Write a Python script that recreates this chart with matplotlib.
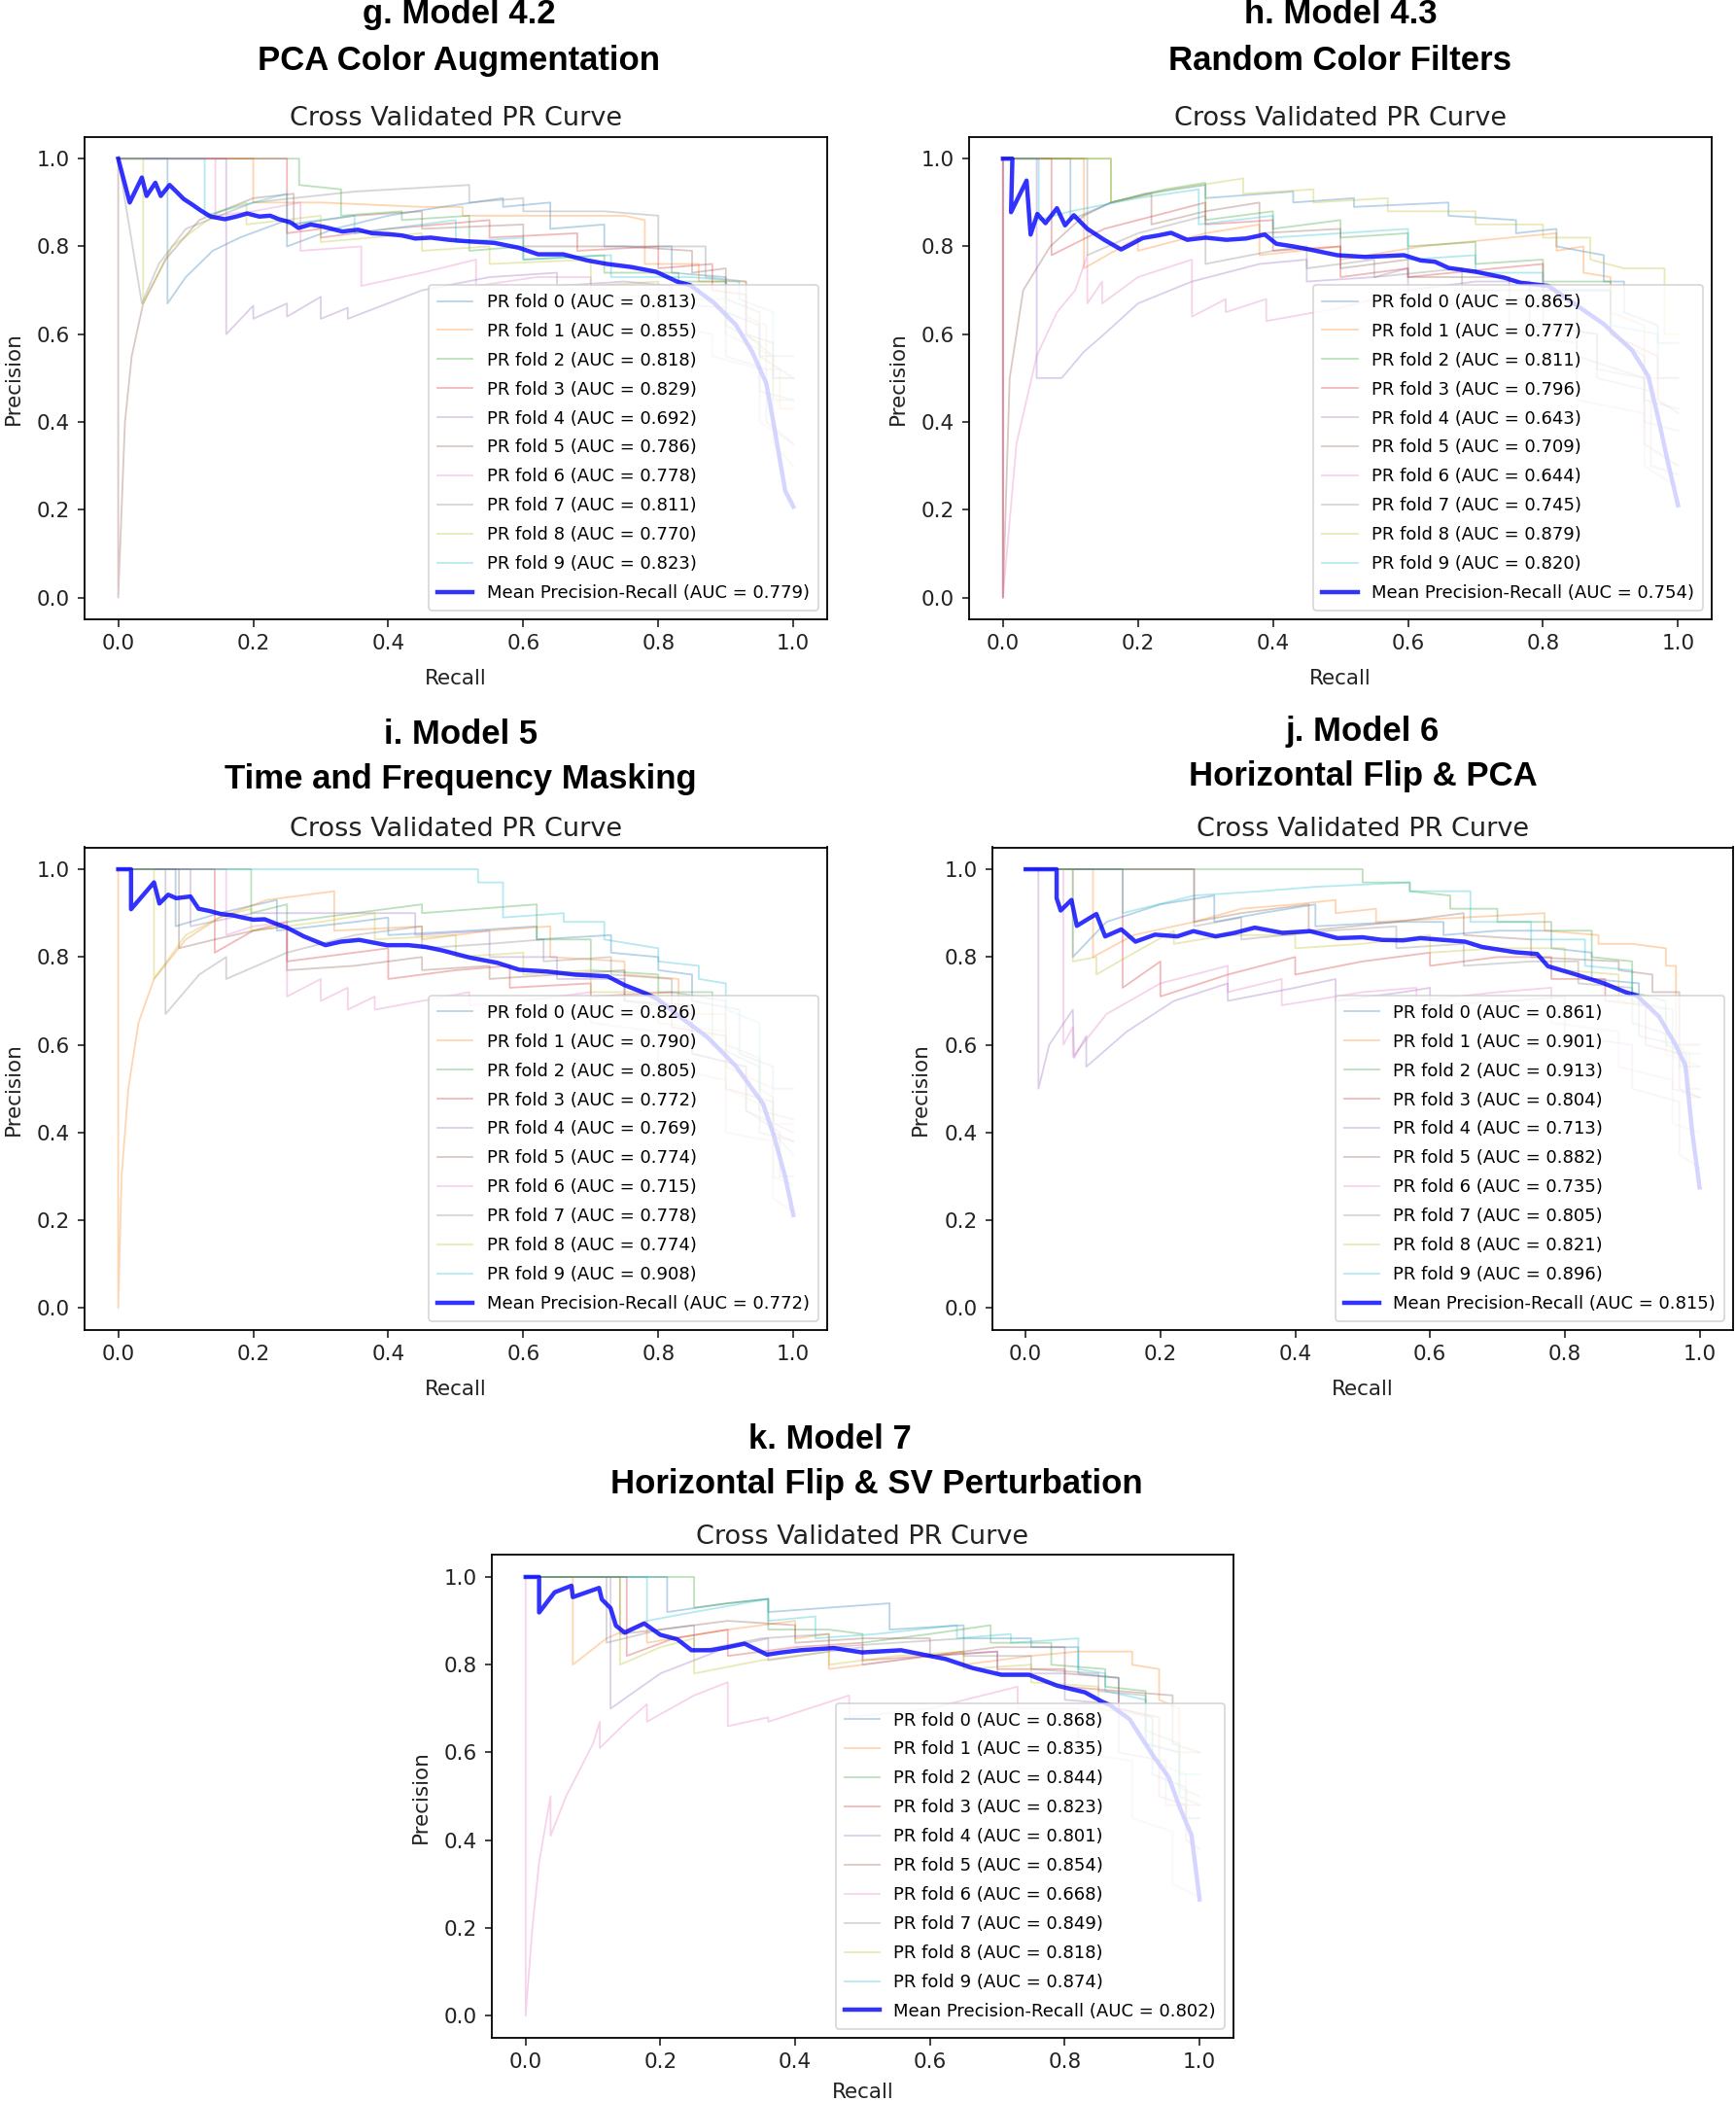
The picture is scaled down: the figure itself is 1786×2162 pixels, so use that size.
import matplotlib
matplotlib.use("Agg")
import matplotlib.pyplot as plt

# ---------------- data ----------------
FOLD_LABEL_FMT = "PR fold {} (AUC = {:.3f})"
MEAN_LABEL_FMT = "Mean Precision-Recall (AUC = {:.3f})"

# Panel g
G_AUC = [0.813, 0.855, 0.818, 0.829, 0.692, 0.786, 0.778, 0.811, 0.770, 0.823]
G_MEAN_AUC = 0.779
G_FOLDS = [
    [(0,1),(0.073,1),(0.073,0.67),(0.1,0.73),(0.14,0.79),(0.18,0.82),(0.25,0.86),(0.25,0.8),(0.32,0.84),(0.4,0.87),(0.48,0.89),(0.57,0.91),(0.57,0.89),(0.64,0.9),(0.64,0.84),(0.72,0.85),(0.72,0.8),(0.82,0.8),(0.82,0.74),(0.9,0.73),(0.9,0.65),(0.95,0.62),(0.95,0.55),(1.0,0.55)],
    [(0,1),(0.2,1),(0.2,0.9),(0.3,0.9),(0.45,0.89),(0.51,0.89),(0.51,0.87),(0.75,0.87),(0.78,0.86),(0.78,0.76),(0.86,0.76),(0.86,0.72),(0.93,0.72),(0.93,0.64),(0.96,0.62),(0.96,0.52),(0.98,0.52),(0.98,0.43),(1.0,0.43)],
    [(0,1),(0.268,1),(0.268,0.94),(0.33,0.93),(0.33,0.87),(0.42,0.88),(0.42,0.86),(0.52,0.87),(0.52,0.79),(0.6,0.8),(0.6,0.77),(0.72,0.78),(0.72,0.74),(0.83,0.74),(0.83,0.72),(0.9,0.72),(0.9,0.62),(0.95,0.58),(0.95,0.47),(1.0,0.45)],
    [(0,1),(0.25,1),(0.25,0.83),(0.3,0.84),(0.3,0.82),(0.4,0.84),(0.55,0.86),(0.55,0.82),(0.68,0.83),(0.68,0.79),(0.8,0.8),(0.8,0.75),(0.88,0.76),(0.88,0.7),(0.93,0.69),(0.93,0.6),(0.97,0.58),(0.97,0.5),(1.0,0.5)],
    [(0,1),(0.16,1),(0.16,0.6),(0.2,0.665),(0.2,0.635),(0.25,0.67),(0.25,0.64),(0.3,0.685),(0.3,0.635),(0.34,0.66),(0.34,0.635),(0.45,0.7),(0.55,0.73),(0.65,0.74),(0.65,0.71),(0.75,0.72),(0.82,0.71),(0.82,0.67),(0.9,0.66),(0.9,0.55),(0.96,0.52),(0.96,0.4),(1.0,0.35)],
    [(0,1),(0,0),(0.01,0.4),(0.02,0.55),(0.037,0.67),(0.07,0.77),(0.12,0.86),(0.2,0.91),(0.26,0.92),(0.26,0.85),(0.35,0.87),(0.45,0.88),(0.45,0.84),(0.6,0.85),(0.6,0.8),(0.75,0.8),(0.85,0.79),(0.85,0.74),(0.9,0.75),(0.9,0.68),(0.95,0.65),(0.95,0.55),(1.0,0.5)],
    [(0,1),(0.144,1),(0.144,0.87),(0.2,0.88),(0.27,0.9),(0.27,0.79),(0.36,0.8),(0.36,0.71),(0.45,0.74),(0.53,0.77),(0.53,0.71),(0.62,0.73),(0.7,0.73),(0.7,0.68),(0.8,0.69),(0.8,0.62),(0.88,0.6),(0.88,0.55),(0.95,0.52),(0.95,0.4),(1.0,0.35)],
    [(0,1),(0.035,0.67),(0.06,0.76),(0.1,0.84),(0.2,0.9),(0.35,0.925),(0.52,0.94),(0.52,0.9),(0.6,0.91),(0.6,0.88),(0.72,0.88),(0.8,0.87),(0.8,0.8),(0.87,0.8),(0.87,0.73),(0.93,0.72),(0.93,0.6),(0.97,0.55),(0.97,0.45),(1.0,0.45)],
    [(0,1),(0.037,1),(0.037,0.67),(0.08,0.8),(0.15,0.88),(0.19,0.9),(0.19,0.85),(0.3,0.87),(0.3,0.81),(0.45,0.83),(0.45,0.79),(0.55,0.8),(0.55,0.76),(0.7,0.77),(0.7,0.71),(0.8,0.72),(0.8,0.68),(0.9,0.68),(0.9,0.6),(0.97,0.55),(0.97,0.35),(1.0,0.3)],
    [(0,1),(0.128,1),(0.128,0.87),(0.2,0.9),(0.25,0.92),(0.25,0.85),(0.35,0.87),(0.35,0.83),(0.45,0.85),(0.5,0.86),(0.5,0.81),(0.6,0.82),(0.6,0.77),(0.73,0.78),(0.73,0.73),(0.85,0.73),(0.92,0.72),(0.92,0.68),(0.97,0.65),(0.97,0.5),(1.0,0.5)],
]
G_MEAN_R = [0, 0.017, 0.035, 0.042, 0.055, 0.063, 0.076, 0.086, 0.097, 0.11, 0.122, 0.137, 0.158, 0.175, 0.191, 0.209, 0.225, 0.238, 0.255, 0.267, 0.285, 0.303, 0.332, 0.355, 0.376, 0.4, 0.42, 0.44, 0.463, 0.49, 0.514, 0.535, 0.557, 0.593, 0.622, 0.659, 0.695, 0.724, 0.76, 0.797, 0.829, 0.847, 0.882, 0.915, 0.939, 0.96, 0.972, 0.98, 0.988, 1.0]
G_MEAN_P = [1.0, 0.90, 0.957, 0.915, 0.945, 0.915, 0.94, 0.925, 0.908, 0.895, 0.882, 0.868, 0.862, 0.868, 0.875, 0.868, 0.87, 0.862, 0.855, 0.842, 0.85, 0.845, 0.834, 0.838, 0.83, 0.828, 0.825, 0.818, 0.82, 0.815, 0.812, 0.81, 0.808, 0.797, 0.782, 0.782, 0.768, 0.76, 0.753, 0.742, 0.719, 0.712, 0.672, 0.621, 0.56, 0.488, 0.386, 0.314, 0.243, 0.207]

# Panel h
H_AUC = [0.865, 0.777, 0.811, 0.796, 0.643, 0.709, 0.644, 0.745, 0.879, 0.820]
H_MEAN_AUC = 0.754
H_FOLDS = [
    [(0,1),(0.1,1),(0.1,0.86),(0.16,0.9),(0.21,0.92),(0.3,0.94),(0.3,0.91),(0.43,0.925),(0.43,0.9),(0.52,0.91),(0.52,0.89),(0.66,0.9),(0.66,0.87),(0.76,0.86),(0.76,0.83),(0.82,0.84),(0.82,0.8),(0.89,0.78),(0.89,0.72),(0.92,0.72),(0.92,0.65),(0.97,0.62),(0.97,0.58),(1.0,0.58)],
    [(0,1),(0.12,1),(0.12,0.75),(0.2,0.82),(0.2,0.79),(0.3,0.83),(0.38,0.85),(0.38,0.78),(0.5,0.8),(0.5,0.77),(0.62,0.8),(0.75,0.82),(0.82,0.83),(0.82,0.79),(0.86,0.8),(0.86,0.74),(0.9,0.73),(0.9,0.65),(0.95,0.62),(0.95,0.5),(1.0,0.5)],
    [(0,1),(0.16,1),(0.16,0.9),(0.24,0.93),(0.3,0.945),(0.3,0.86),(0.4,0.88),(0.4,0.84),(0.5,0.86),(0.5,0.82),(0.6,0.83),(0.6,0.8),(0.7,0.81),(0.7,0.76),(0.8,0.77),(0.8,0.72),(0.9,0.72),(0.9,0.6),(0.95,0.55),(0.95,0.45),(1.0,0.43)],
    [(0,1),(0,0),(0,1),(0.072,1),(0.072,0.78),(0.15,0.84),(0.2,0.86),(0.3,0.9),(0.3,0.85),(0.4,0.86),(0.4,0.79),(0.5,0.8),(0.5,0.73),(0.6,0.75),(0.6,0.73),(0.73,0.75),(0.8,0.76),(0.8,0.7),(0.9,0.7),(0.9,0.6),(0.97,0.55),(0.97,0.45),(1.0,0.42)],
    [(0,1),(0.05,1),(0.05,0.5),(0.087,0.5),(0.12,0.56),(0.15,0.6),(0.2,0.67),(0.28,0.72),(0.38,0.76),(0.45,0.77),(0.45,0.72),(0.55,0.73),(0.6,0.75),(0.6,0.7),(0.7,0.72),(0.78,0.72),(0.78,0.62),(0.88,0.6),(0.88,0.52),(0.95,0.5),(0.95,0.4),(1.0,0.38)],
    [(0,1),(0,0),(0.01,0.5),(0.03,0.7),(0.07,0.8),(0.12,0.87),(0.16,0.9),(0.22,0.92),(0.22,0.85),(0.3,0.88),(0.38,0.9),(0.38,0.83),(0.5,0.84),(0.5,0.75),(0.6,0.77),(0.6,0.73),(0.75,0.73),(0.75,0.68),(0.85,0.68),(0.85,0.55),(0.95,0.5),(0.95,0.35),(1.0,0.3)],
    [(0,1),(0,0),(0.02,0.35),(0.05,0.55),(0.08,0.65),(0.107,0.7),(0.125,0.78),(0.125,0.67),(0.147,0.72),(0.147,0.67),(0.2,0.73),(0.28,0.77),(0.28,0.64),(0.33,0.68),(0.33,0.65),(0.39,0.68),(0.39,0.63),(0.5,0.66),(0.6,0.7),(0.6,0.66),(0.75,0.68),(0.75,0.6),(0.85,0.58),(0.85,0.45),(0.95,0.42),(0.95,0.3),(1.0,0.25)],
    [(0,1),(0.125,1),(0.125,0.78),(0.2,0.83),(0.3,0.87),(0.3,0.76),(0.4,0.79),(0.45,0.8),(0.45,0.75),(0.55,0.77),(0.55,0.73),(0.68,0.75),(0.68,0.7),(0.8,0.7),(0.8,0.62),(0.88,0.6),(0.88,0.5),(0.96,0.47),(0.96,0.3),(1.0,0.28)],
    [(0,1),(0.16,1),(0.16,0.9),(0.25,0.93),(0.356,0.955),(0.356,0.92),(0.46,0.93),(0.46,0.9),(0.57,0.91),(0.57,0.88),(0.7,0.88),(0.7,0.85),(0.8,0.85),(0.8,0.82),(0.87,0.82),(0.87,0.77),(0.92,0.75),(0.98,0.75),(0.98,0.6),(1.0,0.6)],
    [(0,1),(0.053,1),(0.053,0.86),(0.1,0.88),(0.2,0.91),(0.29,0.93),(0.29,0.85),(0.4,0.87),(0.4,0.82),(0.5,0.83),(0.6,0.84),(0.6,0.77),(0.7,0.78),(0.7,0.74),(0.8,0.74),(0.8,0.7),(0.9,0.7),(0.9,0.62),(0.97,0.6),(0.97,0.5),(1.0,0.5)],
]
H_MEAN_R = [0, 0.014, 0.012, 0.035, 0.041, 0.051, 0.063, 0.08, 0.092, 0.105, 0.125, 0.15, 0.175, 0.19, 0.207, 0.23, 0.249, 0.273, 0.3, 0.331, 0.36, 0.388, 0.405, 0.43, 0.454, 0.495, 0.537, 0.594, 0.619, 0.64, 0.66, 0.701, 0.742, 0.767, 0.808, 0.858, 0.89, 0.932, 0.956, 0.973, 0.985, 1.0]
H_MEAN_P = [1.0, 1.0, 0.878, 0.95, 0.827, 0.874, 0.853, 0.887, 0.848, 0.871, 0.84, 0.815, 0.793, 0.805, 0.819, 0.825, 0.831, 0.815, 0.82, 0.815, 0.818, 0.827, 0.806, 0.8, 0.793, 0.78, 0.776, 0.78, 0.768, 0.765, 0.751, 0.742, 0.729, 0.717, 0.71, 0.657, 0.623, 0.563, 0.504, 0.393, 0.308, 0.21]

# Panel i
I_AUC = [0.826, 0.790, 0.805, 0.772, 0.769, 0.774, 0.715, 0.778, 0.774, 0.908]
I_MEAN_AUC = 0.772
I_FOLDS = [
    [(0,1),(0.085,1),(0.085,0.87),(0.15,0.9),(0.235,0.93),(0.235,0.86),(0.35,0.88),(0.4,0.89),(0.4,0.85),(0.52,0.86),(0.62,0.87),(0.62,0.84),(0.73,0.85),(0.73,0.81),(0.8,0.8),(0.8,0.77),(0.85,0.76),(0.85,0.7),(0.92,0.68),(0.92,0.58),(0.97,0.55),(0.97,0.5),(1.0,0.5)],
    [(0,1),(0,0),(0.005,0.3),(0.015,0.5),(0.03,0.65),(0.053,0.75),(0.1,0.84),(0.15,0.89),(0.22,0.93),(0.32,0.95),(0.32,0.86),(0.45,0.87),(0.45,0.84),(0.55,0.86),(0.64,0.87),(0.64,0.8),(0.75,0.79),(0.75,0.76),(0.83,0.75),(0.83,0.67),(0.9,0.67),(0.9,0.55),(0.97,0.5),(0.97,0.42),(1.0,0.42)],
    [(0,1),(0.197,1),(0.197,0.9),(0.25,0.92),(0.25,0.88),(0.35,0.9),(0.45,0.92),(0.45,0.9),(0.62,0.92),(0.62,0.84),(0.7,0.84),(0.7,0.77),(0.8,0.76),(0.8,0.72),(0.88,0.72),(0.88,0.6),(0.95,0.55),(0.95,0.45),(1.0,0.43)],
    [(0,1),(0.143,1),(0.143,0.81),(0.2,0.86),(0.25,0.88),(0.25,0.79),(0.35,0.81),(0.4,0.82),(0.4,0.75),(0.5,0.77),(0.58,0.78),(0.58,0.73),(0.7,0.74),(0.7,0.71),(0.82,0.72),(0.82,0.64),(0.9,0.62),(0.9,0.5),(0.97,0.47),(0.97,0.4),(1.0,0.38)],
    [(0,1),(0.107,1),(0.107,0.87),(0.2,0.9),(0.3,0.9),(0.44,0.9),(0.44,0.85),(0.55,0.86),(0.55,0.8),(0.65,0.8),(0.65,0.75),(0.75,0.75),(0.75,0.7),(0.85,0.68),(0.85,0.58),(0.93,0.55),(0.93,0.45),(1.0,0.4)],
    [(0,1),(0.09,1),(0.09,0.82),(0.143,0.84),(0.2,0.86),(0.25,0.87),(0.25,0.77),(0.35,0.78),(0.45,0.8),(0.45,0.77),(0.55,0.78),(0.55,0.75),(0.65,0.76),(0.75,0.77),(0.75,0.7),(0.85,0.69),(0.85,0.58),(0.93,0.55),(0.93,0.45),(0.98,0.4),(0.98,0.3),(1.0,0.3)],
    [(0,1),(0.16,1),(0.16,0.85),(0.2,0.87),(0.25,0.88),(0.25,0.71),(0.3,0.75),(0.3,0.7),(0.34,0.73),(0.34,0.68),(0.38,0.71),(0.38,0.68),(0.45,0.7),(0.52,0.72),(0.52,0.69),(0.6,0.7),(0.7,0.72),(0.7,0.65),(0.8,0.63),(0.8,0.55),(0.9,0.52),(0.9,0.4),(0.97,0.38),(0.97,0.25),(1.0,0.22)],
    [(0,1),(0.07,1),(0.07,0.67),(0.12,0.76),(0.16,0.8),(0.16,0.75),(0.25,0.81),(0.35,0.85),(0.45,0.87),(0.45,0.82),(0.55,0.83),(0.63,0.84),(0.63,0.79),(0.73,0.8),(0.73,0.76),(0.82,0.75),(0.82,0.72),(0.9,0.7),(0.9,0.6),(0.95,0.57),(0.95,0.4),(1.0,0.38)],
    [(0,1),(0.053,1),(0.053,0.75),(0.1,0.85),(0.15,0.89),(0.197,0.91),(0.197,0.86),(0.3,0.88),(0.38,0.9),(0.38,0.84),(0.5,0.85),(0.5,0.8),(0.6,0.81),(0.6,0.76),(0.7,0.77),(0.7,0.72),(0.8,0.72),(0.8,0.65),(0.9,0.63),(0.9,0.5),(0.97,0.45),(0.97,0.3),(1.0,0.28)],
    [(0,1),(0.533,1),(0.533,0.97),(0.57,0.97),(0.57,0.89),(0.66,0.9),(0.66,0.88),(0.72,0.88),(0.72,0.84),(0.8,0.82),(0.8,0.79),(0.86,0.78),(0.86,0.75),(0.9,0.74),(0.9,0.68),(0.95,0.65),(0.95,0.5),(0.97,0.48),(0.97,0.4),(1.0,0.35)],
]
I_MEAN_R = [0, 0.019, 0.019, 0.053, 0.061, 0.074, 0.086, 0.107, 0.119, 0.135, 0.152, 0.17, 0.184, 0.2, 0.217, 0.235, 0.25, 0.275, 0.307, 0.33, 0.357, 0.398, 0.43, 0.455, 0.48, 0.52, 0.561, 0.594, 0.635, 0.676, 0.725, 0.75, 0.783, 0.799, 0.832, 0.873, 0.914, 0.955, 0.971, 0.988, 1.0]
I_MEAN_P = [1.0, 1.0, 0.909, 0.97, 0.922, 0.942, 0.934, 0.938, 0.91, 0.905, 0.898, 0.895, 0.89, 0.885, 0.886, 0.875, 0.867, 0.847, 0.827, 0.835, 0.839, 0.827, 0.827, 0.823, 0.815, 0.799, 0.787, 0.771, 0.767, 0.76, 0.756, 0.736, 0.716, 0.704, 0.664, 0.617, 0.553, 0.466, 0.394, 0.299, 0.212]

# Panel j
J_AUC = [0.861, 0.901, 0.913, 0.804, 0.713, 0.882, 0.735, 0.805, 0.821, 0.896]
J_MEAN_AUC = 0.815
J_FOLDS = [
    [(0,1),(0.07,1),(0.07,0.8),(0.12,0.88),(0.2,0.92),(0.28,0.94),(0.28,0.88),(0.35,0.9),(0.43,0.92),(0.43,0.87),(0.55,0.88),(0.62,0.88),(0.62,0.85),(0.7,0.86),(0.78,0.86),(0.78,0.82),(0.84,0.81),(0.84,0.75),(0.91,0.74),(0.91,0.62),(0.97,0.6),(0.97,0.55),(1.0,0.55)],
    [(0,1),(0.1,1),(0.1,0.8),(0.16,0.85),(0.25,0.88),(0.32,0.91),(0.4,0.92),(0.46,0.93),(0.46,0.9),(0.52,0.91),(0.52,0.88),(0.65,0.89),(0.77,0.9),(0.77,0.86),(0.85,0.85),(0.85,0.83),(0.9,0.83),(0.95,0.82),(0.95,0.78),(0.965,0.78),(0.965,0.6),(0.985,0.58),(0.985,0.48),(1.0,0.48)],
    [(0,1),(0.5,1),(0.5,0.97),(0.57,0.97),(0.57,0.95),(0.63,0.94),(0.63,0.91),(0.7,0.91),(0.7,0.88),(0.78,0.88),(0.78,0.86),(0.84,0.86),(0.84,0.8),(0.9,0.79),(0.9,0.72),(0.95,0.7),(0.95,0.6),(0.98,0.58),(0.98,0.5),(1.0,0.5)],
    [(0,1),(0.144,1),(0.144,0.73),(0.2,0.79),(0.2,0.71),(0.3,0.76),(0.4,0.8),(0.4,0.76),(0.5,0.79),(0.6,0.81),(0.6,0.78),(0.7,0.8),(0.78,0.8),(0.78,0.75),(0.86,0.75),(0.86,0.7),(0.92,0.69),(0.92,0.6),(0.97,0.58),(0.97,0.5),(1.0,0.48)],
    [(0,1),(0.019,1),(0.019,0.5),(0.035,0.6),(0.07,0.68),(0.072,0.57),(0.09,0.62),(0.09,0.55),(0.15,0.63),(0.22,0.7),(0.3,0.74),(0.3,0.7),(0.4,0.73),(0.46,0.75),(0.46,0.7),(0.56,0.72),(0.6,0.73),(0.6,0.69),(0.72,0.7),(0.8,0.71),(0.8,0.62),(0.9,0.6),(0.9,0.5),(0.97,0.47),(0.97,0.35),(1.0,0.32)],
    [(0,1),(0.25,1),(0.25,0.88),(0.32,0.9),(0.42,0.92),(0.42,0.86),(0.55,0.88),(0.65,0.9),(0.65,0.85),(0.75,0.84),(0.75,0.8),(0.88,0.79),(0.88,0.77),(0.93,0.76),(0.93,0.72),(0.97,0.72),(0.97,0.6),(1.0,0.6)],
    [(0,1),(0.056,1),(0.056,0.6),(0.07,0.64),(0.07,0.573),(0.12,0.67),(0.2,0.74),(0.3,0.78),(0.3,0.72),(0.38,0.75),(0.38,0.69),(0.5,0.72),(0.58,0.73),(0.58,0.7),(0.7,0.72),(0.78,0.73),(0.78,0.65),(0.88,0.63),(0.88,0.55),(0.96,0.52),(0.96,0.42),(1.0,0.4)],
    [(0,1),(0.25,1),(0.25,0.87),(0.32,0.89),(0.32,0.84),(0.45,0.86),(0.55,0.87),(0.55,0.82),(0.65,0.83),(0.65,0.78),(0.75,0.79),(0.82,0.79),(0.82,0.74),(0.9,0.73),(0.9,0.65),(0.96,0.62),(0.96,0.5),(1.0,0.48)],
    [(0,1),(0.07,1),(0.07,0.79),(0.105,0.8),(0.105,0.76),(0.15,0.8),(0.22,0.86),(0.22,0.83),(0.3,0.85),(0.4,0.85),(0.4,0.82),(0.5,0.83),(0.6,0.85),(0.6,0.81),(0.7,0.82),(0.8,0.82),(0.8,0.77),(0.88,0.76),(0.88,0.7),(0.95,0.68),(0.95,0.58),(1.0,0.55)],
    [(0,1),(0.144,1),(0.144,0.9),(0.25,0.94),(0.35,0.95),(0.43,0.96),(0.57,0.97),(0.57,0.95),(0.66,0.95),(0.66,0.88),(0.75,0.88),(0.75,0.84),(0.83,0.84),(0.83,0.78),(0.9,0.77),(0.9,0.7),(0.96,0.68),(0.96,0.58),(1.0,0.58)],
]
J_MEAN_R = [0, 0.046, 0.046, 0.052, 0.068, 0.076, 0.093, 0.105, 0.118, 0.142, 0.163, 0.192, 0.225, 0.249, 0.282, 0.31, 0.34, 0.381, 0.422, 0.463, 0.5, 0.529, 0.56, 0.586, 0.652, 0.677, 0.726, 0.759, 0.775, 0.817, 0.858, 0.89, 0.907, 0.94, 0.964, 0.979, 0.989, 1.0]
J_MEAN_P = [1.0, 1.0, 0.934, 0.906, 0.93, 0.871, 0.887, 0.898, 0.847, 0.863, 0.835, 0.851, 0.847, 0.859, 0.847, 0.855, 0.867, 0.855, 0.859, 0.843, 0.845, 0.839, 0.838, 0.843, 0.835, 0.823, 0.811, 0.807, 0.779, 0.76, 0.74, 0.72, 0.712, 0.664, 0.601, 0.553, 0.402, 0.275]

# Panel k
K_AUC = [0.868, 0.835, 0.844, 0.823, 0.801, 0.854, 0.668, 0.849, 0.818, 0.874]
K_MEAN_AUC = 0.802
K_FOLDS = [
    [(0,1),(0.21,1),(0.21,0.92),(0.3,0.94),(0.36,0.95),(0.36,0.92),(0.45,0.93),(0.54,0.94),(0.54,0.88),(0.65,0.89),(0.65,0.86),(0.75,0.86),(0.75,0.84),(0.82,0.84),(0.82,0.78),(0.88,0.77),(0.88,0.7),(0.93,0.68),(0.93,0.55),(0.98,0.52),(0.98,0.45),(1.0,0.45)],
    [(0,1),(0.07,1),(0.07,0.8),(0.12,0.86),(0.18,0.9),(0.18,0.85),(0.3,0.88),(0.4,0.9),(0.4,0.86),(0.45,0.87),(0.45,0.79),(0.55,0.81),(0.65,0.83),(0.65,0.8),(0.75,0.82),(0.82,0.83),(0.9,0.83),(0.9,0.8),(0.94,0.79),(0.94,0.72),(0.97,0.7),(0.97,0.6),(1.0,0.6)],
    [(0,1),(0.25,1),(0.25,0.93),(0.3,0.94),(0.36,0.95),(0.36,0.88),(0.45,0.88),(0.5,0.87),(0.5,0.85),(0.6,0.87),(0.69,0.89),(0.69,0.85),(0.78,0.85),(0.78,0.8),(0.86,0.79),(0.86,0.75),(0.92,0.74),(0.92,0.65),(0.97,0.62),(0.97,0.5),(1.0,0.48)],
    [(0,1),(0.15,1),(0.15,0.82),(0.22,0.86),(0.3,0.88),(0.3,0.82),(0.4,0.84),(0.5,0.85),(0.5,0.81),(0.6,0.82),(0.7,0.83),(0.7,0.79),(0.8,0.79),(0.8,0.75),(0.88,0.74),(0.88,0.7),(0.94,0.68),(0.94,0.5),(0.98,0.48),(0.98,0.4),(1.0,0.38)],
    [(0,1),(0.126,1),(0.126,0.7),(0.2,0.78),(0.3,0.84),(0.36,0.86),(0.36,0.81),(0.45,0.83),(0.5,0.84),(0.5,0.8),(0.6,0.82),(0.7,0.83),(0.7,0.78),(0.8,0.78),(0.8,0.72),(0.88,0.71),(0.88,0.6),(0.95,0.58),(0.95,0.48),(1.0,0.48)],
    [(0,1),(0.14,1),(0.14,0.87),(0.2,0.88),(0.3,0.9),(0.4,0.89),(0.4,0.85),(0.5,0.86),(0.6,0.86),(0.6,0.82),(0.7,0.84),(0.8,0.84),(0.8,0.78),(0.88,0.77),(0.88,0.74),(0.96,0.73),(0.96,0.62),(1.0,0.6)],
    [(0,1),(0,0),(0.01,0.2),(0.02,0.35),(0.037,0.5),(0.037,0.41),(0.06,0.5),(0.1,0.62),(0.11,0.67),(0.11,0.61),(0.15,0.67),(0.18,0.71),(0.18,0.67),(0.25,0.73),(0.3,0.76),(0.3,0.66),(0.36,0.68),(0.36,0.67),(0.48,0.73),(0.48,0.68),(0.6,0.7),(0.73,0.75),(0.73,0.7),(0.82,0.7),(0.82,0.6),(0.9,0.58),(0.9,0.45),(0.96,0.42),(0.96,0.3),(1.0,0.27)],
    [(0,1),(0.12,1),(0.12,0.85),(0.2,0.88),(0.25,0.89),(0.25,0.83),(0.35,0.86),(0.45,0.87),(0.45,0.84),(0.55,0.85),(0.65,0.86),(0.65,0.82),(0.75,0.82),(0.75,0.79),(0.85,0.78),(0.85,0.74),(0.92,0.73),(0.92,0.62),(0.97,0.6),(0.97,0.52),(1.0,0.5)],
    [(0,1),(0.14,1),(0.14,0.8),(0.2,0.84),(0.25,0.86),(0.25,0.78),(0.35,0.81),(0.45,0.83),(0.45,0.8),(0.55,0.82),(0.65,0.83),(0.65,0.79),(0.75,0.8),(0.75,0.76),(0.85,0.75),(0.85,0.7),(0.93,0.68),(0.93,0.58),(0.98,0.55),(0.98,0.45),(1.0,0.45)],
    [(0,1),(0.18,1),(0.18,0.9),(0.25,0.92),(0.36,0.95),(0.36,0.9),(0.43,0.91),(0.43,0.86),(0.52,0.87),(0.64,0.89),(0.64,0.86),(0.72,0.87),(0.72,0.85),(0.82,0.86),(0.82,0.79),(0.86,0.78),(0.86,0.74),(0.92,0.72),(0.92,0.62),(0.97,0.6),(0.97,0.55),(1.0,0.55)],
]
K_MEAN_R = [0, 0.02, 0.02, 0.043, 0.068, 0.07, 0.109, 0.113, 0.126, 0.134, 0.147, 0.176, 0.2, 0.225, 0.246, 0.275, 0.3, 0.325, 0.358, 0.38, 0.408, 0.457, 0.499, 0.557, 0.59, 0.623, 0.664, 0.706, 0.747, 0.789, 0.83, 0.855, 0.867, 0.896, 0.93, 0.954, 0.971, 0.988, 1.0]
K_MEAN_P = [1.0, 1.0, 0.919, 0.965, 0.98, 0.954, 0.975, 0.949, 0.929, 0.889, 0.873, 0.894, 0.868, 0.858, 0.833, 0.833, 0.84, 0.848, 0.823, 0.828, 0.833, 0.838, 0.828, 0.833, 0.823, 0.813, 0.792, 0.777, 0.777, 0.752, 0.737, 0.716, 0.708, 0.676, 0.595, 0.544, 0.473, 0.412, 0.265]

PANEL_TITLES = [
    ("g. Model 4.2", "PCA Color Augmentation"),
    ("h. Model 4.3", "Random Color Filters"),
    ("i. Model 5", "Time and Frequency Masking"),
    ("j. Model 6", "Horizontal Flip & PCA"),
    ("k. Model 7", "Horizontal Flip & SV Perturbation"),
]
AX_TITLE = "Cross Validated PR Curve"
TICKS = [0.0, 0.2, 0.4, 0.6, 0.8, 1.0]
TICK_LABELS = ["0.0", "0.2", "0.4", "0.6", "0.8", "1.0"]

# ---------------- drawing ----------------
W, H = 1786, 2162
plt.rcParams['font.family'] = ['DejaVu Sans']
fig = plt.figure(figsize=(W / 100, H / 100), dpi=100)

BASE = 15.5
colors = plt.rcParams['axes.prop_cycle'].by_key()['color']

def rect(left, top, right, bottom):
    return [left / W, 1 - bottom / H, (right - left) / W, (bottom - top) / H]

panels = [
    (rect(86.9, 140.6, 850.9, 637.1), G_FOLDS, G_AUC, G_MEAN_R, G_MEAN_P, G_MEAN_AUC, 11.5),
    (rect(997.1, 140.6, 1761.1, 637.1), H_FOLDS, H_AUC, H_MEAN_R, H_MEAN_P, H_MEAN_AUC, 11.5),
    (rect(86.9, 871.5, 850.9, 1368.0), I_FOLDS, I_AUC, I_MEAN_R, I_MEAN_P, I_MEAN_AUC, 11.5),
    (rect(1020.5, 871.5, 1783.2, 1368.0), J_FOLDS, J_AUC, J_MEAN_R, J_MEAN_P, J_MEAN_AUC, 11.5),
    (rect(506.1, 1599.4, 1268.8, 2095.8), K_FOLDS, K_AUC, K_MEAN_R, K_MEAN_P, K_MEAN_AUC, 8.0),
]

for (r, folds, aucs, mr, mp, mauc, xpad) in panels:
    ax = fig.add_axes(r)
    for i, fold in enumerate(folds):
        xs = [pt[0] for pt in fold]
        ys = [pt[1] for pt in fold]
        ax.plot(xs, ys, lw=1.3, alpha=0.32, color=colors[i % 10],
                label=FOLD_LABEL_FMT.format(i, aucs[i]))
    ax.plot(mr, mp, color='b', lw=3.2, alpha=0.8, label=MEAN_LABEL_FMT.format(mauc))
    ax.set_xlim(-0.05, 1.05)
    ax.set_ylim(-0.05, 1.05)
    ax.set_xticks(TICKS)
    ax.set_xticklabels(TICK_LABELS)
    ax.set_yticks(TICKS)
    ax.set_yticklabels(TICK_LABELS)
    ax.tick_params(labelsize=BASE, length=5.4, width=1.2, pad=5.4, colors='#222222')
    for s in ax.spines.values():
        s.set_linewidth(1.3)
    ax.set_xlabel("Recall", fontsize=BASE, labelpad=xpad, color='#222222')
    ax.set_ylabel("Precision", fontsize=BASE, labelpad=10, color='#222222')
    ax.set_title(AX_TITLE, fontsize=19.5, pad=8, color='#222222')
    leg = ax.legend(loc='lower right', fontsize=13.0, framealpha=0.8,
                    labelspacing=0.66, borderpad=0.5, handlelength=2.0)
    leg.get_frame().set_linewidth(1.2)

# Panel headings (bold)
heading_pos = [
    (472, 24, 72),
    (1379, 24, 72),
    (474, 765, 811),
    (1402, 762, 808),
    ((854, 902), 1490, 1536),
]
for (pos, (l1, l2)) in zip(heading_pos, PANEL_TITLES):
    xc, y1, y2 = pos
    if isinstance(xc, tuple):
        x1, x2 = xc
    else:
        x1 = x2 = xc
    fig.text(x1 / W, 1 - y1 / H, l1, ha='center', va='baseline',
             fontsize=25, fontweight='bold', family=['Liberation Sans', 'DejaVu Sans'])
    fig.text(x2 / W, 1 - y2 / H, l2, ha='center', va='baseline',
             fontsize=25, fontweight='bold', family=['Liberation Sans', 'DejaVu Sans'])

fig.savefig("out.png", dpi=100)
